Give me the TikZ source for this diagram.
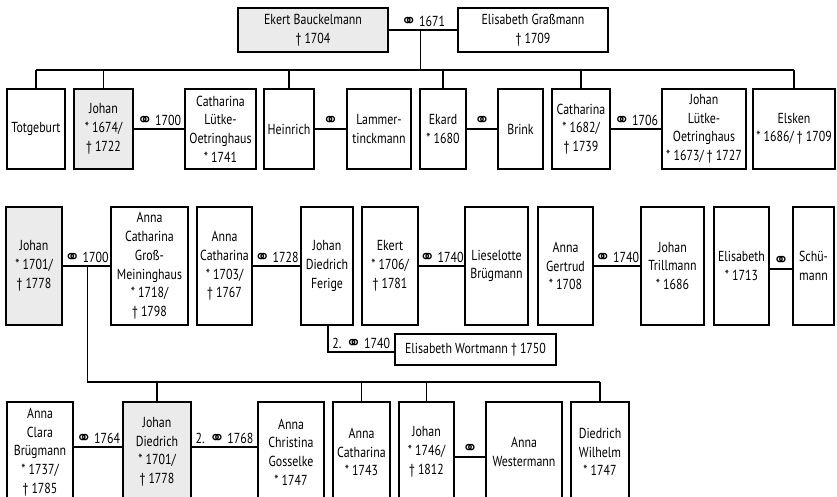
\documentclass[tikz,border=0pt]{standalone}
\usepackage{fontspec}
\setmainfont{PT Sans}[FakeStretch=0.82]
\newfontfamily\symf{DejaVu Sans}
\newcommand\ms{{\symf\fontsize{19}{19}\selectfont\raisebox{-0.6pt}{⚭}}}
\tikzset{
  pbox/.style={draw, line width=1.1pt, align=center, inner sep=0pt,
    font=\fontsize{14.5}{18.7}\selectfont},
  hl/.style={fill=black!8},
  mlab/.style={above, inner sep=2pt, font=\fontsize{14.5}{16}\selectfont},
  conn/.style={line width=1.1pt}
}
\begin{document}
\begin{tikzpicture}[x=1pt,y=-1pt]
\useasboundingbox (0,0) rectangle (837,497);
\clip (0,0) rectangle (837,497);
% generation 1
\node[pbox,hl,minimum width=150,minimum height=44] (ekert) at (313,30) {Ekert Bauckelmann\\† 1704};
\node[pbox,minimum width=150,minimum height=44] (elis) at (533,30) {Elisabeth Graßmann\\† 1709};
% generation 2
\node[pbox,minimum width=58,minimum height=80] (tot) at (36,129) {Totgeburt};
\node[pbox,hl,minimum width=59,minimum height=80] (johan1) at (103.5,129) {Johan\\* 1674/\\† 1722};
\node[pbox,minimum width=71,minimum height=80] (cathlo) at (220.5,129) {Catharina\\Lütke-\\Oetringhaus\\* 1741};
\node[pbox,minimum width=50,minimum height=80] (heinr) at (289,129) {Heinrich};
\node[pbox,minimum width=64,minimum height=80] (lammer) at (379,129) {Lammer-\\tinckmann};
\node[pbox,minimum width=46,minimum height=80] (ekard) at (443,129) {Ekard\\* 1680};
\node[pbox,minimum width=45,minimum height=80] (brink) at (520.5,129) {Brink};
\node[pbox,minimum width=58,minimum height=80] (cath2) at (581,129) {Catharina\\* 1682/\\† 1739};
\node[pbox,minimum width=84,minimum height=80] (johanlo) at (704,129) {Johan\\Lütke-\\Oetringhaus\\* 1673/ † 1727};
\node[pbox,minimum width=82,minimum height=80] (elsken) at (794,129) {Elsken\\* 1686/ † 1709};
% generation 3
\node[pbox,hl,minimum width=56,minimum height=118] (johan2) at (34,266) {Johan\\* 1701/\\† 1778};
\node[pbox,minimum width=77,minimum height=118] (annacgm) at (149.5,266) {Anna\\Catharina\\Groß-\\Meininghaus\\* 1718/\\† 1798};
\node[pbox,minimum width=55,minimum height=118] (annac2) at (224.5,266) {Anna\\Catharina\\* 1703/\\† 1767};
\node[pbox,minimum width=52,minimum height=118] (ferige) at (327,266) {Johan\\Diedrich\\Ferige};
\node[pbox,minimum width=56,minimum height=118] (ekert2) at (390,266) {Ekert\\* 1706/\\† 1781};
\node[pbox,minimum width=63,minimum height=118] (lies) at (496.5,266) {Lieselotte\\Brügmann};
\node[pbox,minimum width=55,minimum height=118] (gertrud) at (565.5,266) {Anna\\Gertrud\\* 1708};
\node[pbox,minimum width=63,minimum height=118] (trill) at (672.5,266) {Johan\\Trillmann\\* 1686};
\node[pbox,minimum width=55,minimum height=118] (elis3) at (741.5,266) {Elisabeth\\* 1713};
\node[pbox,minimum width=41,minimum height=118] (schu) at (813.5,266) {Schü-\\mann};
\node[pbox,minimum width=161,minimum height=31] (wort) at (475.5,349.5) {Elisabeth Wortmann † 1750};
% generation 4
\node[pbox,minimum width=66,minimum height=100] (annacl) at (40,452) {Anna\\Clara\\Brügmann\\* 1737/\\† 1785};
\node[pbox,hl,minimum width=68,minimum height=100] (johand) at (157,452) {Johan\\Diedrich\\* 1701/\\† 1778};
\node[pbox,minimum width=66,minimum height=100] (annachr) at (291,452) {Anna\\Christina\\Gosselke\\* 1747};
\node[pbox,minimum width=57,minimum height=100] (annac3) at (361.5,452) {Anna\\Catharina\\* 1743};
\node[pbox,minimum width=55,minimum height=100] (johan4) at (426.5,452) {Johan\\* 1746/\\† 1812};
\node[pbox,minimum width=76,minimum height=100] (westm) at (524,452) {Anna\\Westermann};
\node[pbox,minimum width=58,minimum height=100] (dwil) at (600,452) {Diedrich\\Wilhelm\\* 1747};

% marriages
\draw[conn] (ekert.east) -- node[mlab] {\ms\,1671} coordinate[pos=0.47] (m1) (elis.west);
\draw[conn] (johan1.east) -- node[mlab] {\ms\,1700} (cathlo.west);
\draw[conn] (heinr.east) -- node[mlab] {\ms} (lammer.west);
\draw[conn] (ekard.east) -- node[mlab] {\ms} (brink.west);
\draw[conn] (cath2.east) -- node[mlab] {\ms\,1706} (johanlo.west);
\draw[conn] (johan2.east) -- node[mlab] {\ms\,1700} coordinate[pos=0.53] (m3) (annacgm.west);
\draw[conn] (annac2.east) -- node[mlab] {\ms\,1728} (ferige.west);
\draw[conn] (ekert2.east) -- node[mlab] {\ms\,1740} (lies.west);
\draw[conn] (gertrud.east) -- node[mlab] {\ms\,1740} (trill.west);
\draw[conn] ([yshift=-3pt]elis3.east) -- node[mlab] {\ms} ([yshift=-3pt]schu.west);
\draw[conn] ([xshift=1pt]ferige.south) |- node[mlab,pos=0.75] {2. \ms\,1740} ([yshift=-2.5pt]wort.west);
\draw[conn] ([yshift=5pt]annacl.east) -- node[mlab] {\ms\,1764} ([yshift=5pt]johand.west);
\draw[conn] ([yshift=5pt]johand.east) -- node[mlab] {2. \ms\,1768} ([yshift=5pt]annachr.west);
\draw[conn] ([yshift=-5pt]johan4.east) -- node[mlab] {\ms} ([yshift=-5pt]westm.west);

% descent lines
\coordinate (b1) at (0,70);
\draw[conn] (m1) -- (m1 |- b1);
\draw[conn] (tot.north |- b1) -- (elsken.north |- b1);
\foreach \c in {tot,johan1,heinr,ekard,cath2,elsken}
  \draw[conn] (\c.north) -- (\c.north |- b1);
\coordinate (b3) at (0,382);
\draw[conn] (m3) -- (m3 |- b3) -- (dwil.north |- b3);
\foreach \c in {johand,annac3,johan4,dwil}
  \draw[conn] (\c.north) -- (\c.north |- b3);
\end{tikzpicture}
\end{document}
